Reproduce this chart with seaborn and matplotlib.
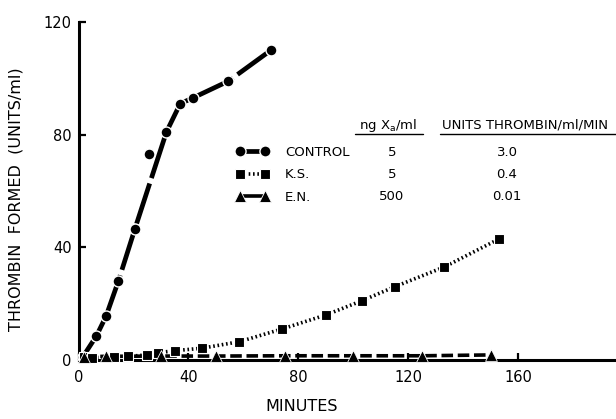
import numpy as np
import pandas as pd
import matplotlib
matplotlib.use("Agg")
import matplotlib.pyplot as plt
import seaborn as sns
from matplotlib.lines import Line2D

# ---- data ----
control_t = [1.5, 6.5, 10, 14.5, 20.5, 25.5, 32, 37, 41.5, 54.5, 70]
control_y = [1.0, 8.5, 15.5, 28, 46.5, 73, 81, 91, 93, 99, 110]
control_on_curve = [1, 1, 1, 1, 1, 0, 1, 1, 1, 1, 1]

ks_t = [2, 5, 13, 18, 25, 29, 35, 45, 58.5, 74, 90, 103, 115, 133, 153]
ks_y = [1.2, 0.8, 1.2, 1.3, 1.8, 2.6, 3.3, 4.2, 6.5, 11, 16, 21, 26, 33, 43]

en_t = [2, 10, 30, 50, 75, 100, 125, 150]
en_y = [1.2, 1.3, 1.4, 1.4, 1.5, 1.5, 1.5, 1.8]

series_names = ["CONTROL", "K.S.", "E.N."]
ng_xa = ["5", "5", "500"]
rates = ["3.0", "0.4", "0.01"]
x_ticks = [0, 40, 80, 120, 160]
y_ticks = [0, 40, 80, 120]

sns.set_theme(style="white")
plt.rcParams["font.family"] = ["DejaVu Sans"]

W, H = 616, 419
fig = plt.figure(figsize=(W / 100, H / 100), dpi=100)
ax = fig.add_axes([78.5 / W, (H - 360) / H, (W - 78.5) / W, (360 - 22) / H])

def px(x, y):
    return x / W, 1 - y / H

ctrl = pd.DataFrame({"t": control_t, "v": control_y, "on": control_on_curve})
ks = pd.DataFrame({"t": ks_t, "v": ks_y})
en = pd.DataFrame({"t": en_t, "v": en_y})

blk = "black"
# control: curve (passes by the outlier) + markers
sns.lineplot(data=ctrl[ctrl["on"] == 1], x="t", y="v", ax=ax, color=blk, lw=3.4,
             linestyle=(0, (9, 1.2)), sort=False, clip_on=False, zorder=3)
sns.scatterplot(data=ctrl, x="t", y="v", ax=ax, color=blk, marker="o", s=62,
                edgecolor="white", linewidth=1.0, clip_on=False, zorder=4)
# K.S.
sns.lineplot(data=ks, x="t", y="v", ax=ax, color=blk, lw=2.6,
             linestyle=(0, (0.45, 0.75)), sort=False, clip_on=False, zorder=3)
sns.scatterplot(data=ks, x="t", y="v", ax=ax, color=blk, marker="s", s=50,
                edgecolor="white", linewidth=0.8, clip_on=False, zorder=4)
# E.N.
sns.lineplot(data=en, x="t", y="v", ax=ax, color=blk, lw=2.6,
             linestyle=(0, (3.2, 1.3)), sort=False, clip_on=False, zorder=3)
sns.scatterplot(data=en, x="t", y="v", ax=ax, color=blk, marker="^", s=72,
                edgecolor="white", linewidth=0.6, clip_on=False, zorder=4)

ax.set_xlim(0, 195.5)
ax.set_ylim(0, 120)
ax.set_xticks(x_ticks)
ax.set_yticks(y_ticks)
ax.set_xticklabels([str(v) for v in x_ticks])
ax.set_yticklabels([str(v) for v in y_ticks])

for s in ["top", "right"]:
    ax.spines[s].set_visible(False)
for s in ["left", "bottom"]:
    ax.spines[s].set_color(blk)
    ax.spines[s].set_linewidth(2.2)

ax.tick_params(axis="both", colors=blk, labelsize=10.5, direction="in",
               length=5, width=1.6, left=True, bottom=True)
ax.tick_params(axis="x", pad=7)
ax.tick_params(axis="y", pad=5)

ax.set_xlabel("MINUTES", fontsize=11.5, color=blk)
ax.set_ylabel("THROMBIN  FORMED  (UNITS/ml)", fontsize=11.5, color=blk)
ax.xaxis.set_label_coords((302 - 78.5) / (W - 78.5), (360 - 399) / 338)
ax.yaxis.set_label_coords((24 - 78.5) / (W - 78.5), (360 - 199) / 338)

# legend table
handles = [
    Line2D([], [], color=blk, lw=3.4, marker="o", ms=8, mec="white", mew=1.0,
           linestyle="-"),
    Line2D([], [], color=blk, lw=2.6, marker="s", ms=7, mec="white", mew=0.8,
           linestyle=(0, (0.45, 0.75))),
    Line2D([], [], color=blk, lw=2.6, marker="^", ms=8.5, mec="white", mew=0.6,
           linestyle="-"),
]
leg = ax.legend(handles, series_names, loc="upper left",
                bbox_to_anchor=px(236, 146), bbox_transform=fig.transFigure,
                frameon=False, numpoints=2, handlelength=2.5, handletextpad=1.2,
                labelspacing=0.72, borderpad=0, borderaxespad=0, fontsize=9.5)
for t in leg.get_texts():
    t.set_color(blk)

fs = 9.5
fig.text(*px(388, 125), "ng Ⅹ$_{\\mathregular{a}}$/ml", ha="center", va="center", fontsize=fs, color=blk)
fig.text(*px(442, 125), "UNITS THROMBIN/ml/MIN", ha="left", va="center", fontsize=fs, color=blk)
fig.add_artist(Line2D([355 / W, 423 / W], [1 - 134 / H] * 2, color=blk, lw=1.0))
fig.add_artist(Line2D([440 / W, 616 / W], [1 - 134 / H] * 2, color=blk, lw=1.0))

row_y = [153, 174, 196]
for yy, a, r in zip(row_y, ng_xa, rates):
    fig.text(*px(392, yy), a, ha="center", va="center", fontsize=fs, color=blk)
    fig.text(*px(507, yy), r, ha="center", va="center", fontsize=fs, color=blk)

fig.savefig("out.png", dpi=100, facecolor="white")
